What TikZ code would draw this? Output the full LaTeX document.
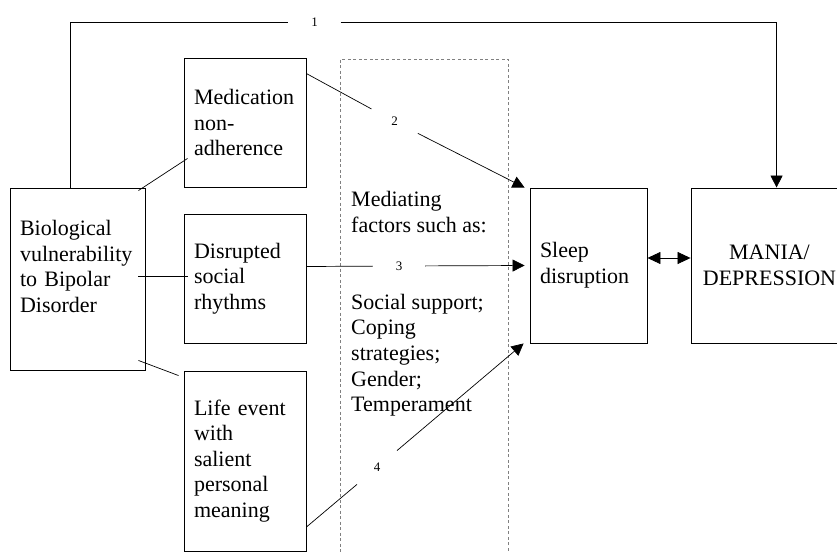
\documentclass[tikz,border=0pt]{standalone}
\usepackage{fontspec}
\setmainfont{Liberation Serif}
\usetikzlibrary{arrows.meta}
\begin{document}
\begin{tikzpicture}[x=1pt,y=-1pt,
		box/.style={draw,line width=0.9pt,inner xsep=10pt,inner ysep=0pt,align=left,font=\fontsize{22}{25.6}\selectfont},
		lbl/.style={circle,minimum size=52pt,inner sep=0pt,font=\fontsize{13}{15}\selectfont},
		link/.style={line width=0.7pt},
		arr/.style={link,-{Triangle[length=12pt,width=12pt]}},
		arrs/.style={link,{Triangle[length=13pt,width=12pt]}-{Triangle[length=13pt,width=12pt]}}]
		\clip (0,0) rectangle (837,552);
		\node[draw=gray,line width=0.7pt,dash pattern=on 3pt off 2.5pt,minimum width=168pt,minimum height=560pt] (frame) at (424,339) {};
		\node[inner sep=0pt,anchor=west,align=left,font=\fontsize{22}{25.6}\selectfont] (factors) at (351,304) {Mediating\\factors such as:\\~\\~\\Social support;\\Coping\\strategies;\\Gender;\\Temperament};
		\node[box,text width=115pt,minimum height=182pt] (bio) at (77.5,279) {Biological\\vulnerability\\to Bipolar\\Disorder\\~};
		\node[box,text width=102pt,minimum height=129pt] (med) at (245,122.5) {Medication\\non-\\adherence};
		\node[box,text width=102pt,minimum height=129pt] (dis) at (245,278.5) {Disrupted\\social\\rhythms};
		\node[box,text width=102pt,minimum height=180pt] (life) at (245,461) {Life event\\with\\salient\\personal\\meaning};
		\node[box,text width=97pt,minimum height=155pt] (sleep) at (588.5,265.5) {Sleep\\disruption};
		\node[box,text width=137pt,minimum height=155pt,align=center] (mania) at (769.5,265.5) {MANIA/\\DEPRESSION};
		\node[lbl] (l1) at (314.5,22) {1};
		\node[lbl] (l2) at (394.5,121.5) {2};
		\node[lbl] (l3) at (399,266) {3};
		\node[lbl] (l4) at (377,467.5) {4};
		\draw[link] ([xshift=61pt]bio.north west) |- (l1);
		\draw[arr] (l1) -| ([xshift=86pt]mania.north west);
		\draw[link] ([yshift=-16pt]med.north east) -- (l2);
		\draw[arr] (l2) -- ([xshift=-5pt]sleep.north west);
		\draw[link] ([yshift=12pt]dis.east) -- (l3);
		\draw[arr] (l3) -- ([xshift=-5pt]sleep.west);
		\draw[link] ([yshift=-66pt]life.east) -- (l4);
		\draw[arr] (l4) -- ([xshift=-6pt]sleep.south west);
		\draw[arrs] ([yshift=7.5pt]sleep.east) -- ([yshift=7.5pt]mania.west);
		\draw[link] ([xshift=-7pt,yshift=-3pt]bio.north east) -- ([xshift=4pt,yshift=29pt]med.south west);
		\draw[link] ([xshift=-7pt,yshift=3pt]bio.east) -- ([xshift=4pt,yshift=2.5pt]dis.west);
		\draw[link] ([xshift=-7pt,yshift=10pt]bio.south east) -- ([xshift=-5pt,yshift=-5pt]life.north west);
	\end{tikzpicture}
\end{document}
